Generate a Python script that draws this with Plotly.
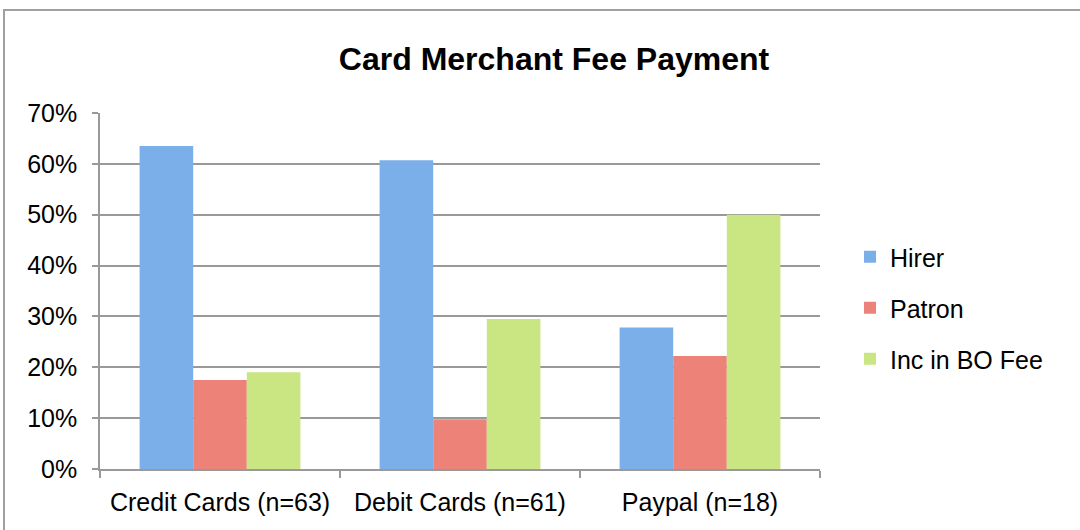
import plotly.graph_objects as go

# Share of respondents by who pays the card merchant fee (percent)
categories = ["Credit Cards (n=63)", "Debit Cards (n=61)", "Paypal (n=18)"]
hirer = [63.5, 60.7, 27.8]
patron = [17.5, 9.8, 22.2]
inc_bo_fee = [19.0, 29.5, 50.0]

series_names = ["Hirer", "Patron", "Inc in BO Fee"]
series_values = [hirer, patron, inc_bo_fee]
series_colors = ["#7aafe9", "#ec8278", "#c9e683"]

y_ticks = [0, 10, 20, 30, 40, 50, 60, 70]
y_tick_labels = ["0%", "10%", "20%", "30%", "40%", "50%", "60%", "70%"]

FONT = "Liberation Sans, Arial, Helvetica, sans-serif"

fig = go.Figure()
for name, vals, color in zip(series_names, series_values, series_colors):
    fig.add_trace(go.Bar(
        x=categories,
        y=vals,
        name=name,
        legendgroup=name,
        marker=dict(color=color, line=dict(width=0)),
    ))

fig.update_layout(
    width=1080,
    height=530,
    paper_bgcolor="white",
    plot_bgcolor="white",
    barmode="group",
    bargap=0.33,
    bargroupgap=0,
    margin=dict(l=100, r=260, t=113, b=61, autoexpand=False),
    font=dict(family=FONT, size=25, color="#000000"),
    title=dict(
        text="<b>Card Merchant Fee Payment</b>",
        font=dict(family=FONT, size=32, color="#000000"),
        xref="container", x=0.513, xanchor="center",
        yref="container", y=0.889, yanchor="middle",
    ),
    showlegend=True,
    legend=dict(
        x=(850 - 100) / 720, xanchor="left",
        y=(469 - 234) / 356, yanchor="top",
        traceorder="grouped",
        tracegroupgap=15.5,
        font=dict(family=FONT, size=25, color="#000000"),
        bgcolor="rgba(0,0,0,0)",
    ),
    xaxis=dict(
        type="category",
        tickson="boundaries",
        ticks="outside",
        ticklen=7,
        tickwidth=1.5,
        tickcolor="#999999",
        showline=True,
        linecolor="#999999",
        linewidth=1.5,
        showgrid=False,
        ticklabelstandoff=10,
        tickfont=dict(family=FONT, size=25, color="#000000"),
        fixedrange=True,
    ),
    yaxis=dict(
        range=[0, 70],
        tickmode="array",
        tickvals=y_ticks,
        ticktext=y_tick_labels,
        ticks="outside",
        ticklen=6,
        tickwidth=1.5,
        tickcolor="#999999",
        showline=True,
        linecolor="#999999",
        linewidth=1.5,
        showgrid=True,
        gridcolor="#999999",
        gridwidth=1.5,
        zeroline=False,
        ticklabelstandoff=10,
        tickfont=dict(family=FONT, size=25, color="#000000"),
        fixedrange=True,
    ),
)

# Chart-area frame
fig.add_shape(
    type="rect",
    xref="paper", yref="paper",
    x0=(4 - 100) / 720, x1=(1100 - 100) / 720,
    y0=(469 - 560) / 356, y1=(469 - 10) / 356,
    line=dict(color="#a0a0a0", width=2),
    fillcolor="rgba(0,0,0,0)",
    layer="below",
)

fig.write_html("out.html")
